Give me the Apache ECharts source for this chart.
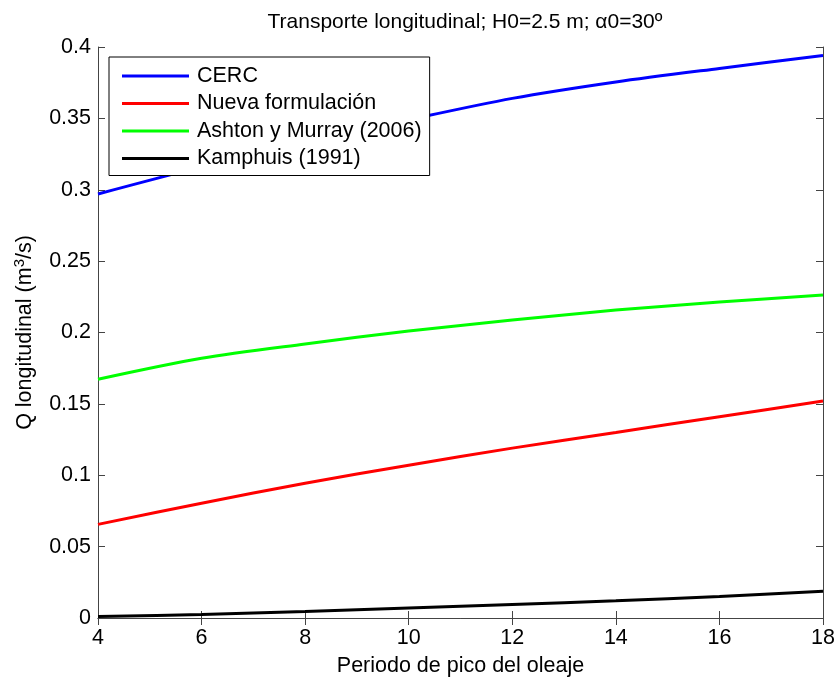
<!DOCTYPE html>
<html><head><meta charset="utf-8">
<script src="https://cdn.jsdelivr.net/npm/echarts@6/dist/echarts.min.js"></script>
<style>html,body{margin:0;padding:0;background:#fff}#c{width:838px;height:677px}</style>
</head><body><div id="c"></div>
<script>
const periods = [4, 6, 8, 10, 12, 14, 16, 18];
const cerc = [0.297, 0.316, 0.333, 0.349, 0.364, 0.3755, 0.385, 0.394];
const nueva = [0.0656, 0.0804, 0.0944, 0.107, 0.119, 0.130, 0.141, 0.152];
const ashton = [0.1673, 0.182, 0.192, 0.201, 0.2087, 0.2157, 0.2213, 0.2262];
const kamphuis = [0.001, 0.0025, 0.0045, 0.007, 0.0095, 0.012, 0.015, 0.0187];
const seriesNames = ['CERC', 'Nueva formulación', 'Ashton y Murray (2006)', 'Kamphuis (1991)'];
const seriesColors = ['#0000ff', '#ff0000', '#00ff00', '#000000'];
const xTicks = [4, 6, 8, 10, 12, 14, 16, 18];
const yTicks = [0, 0.05, 0.1, 0.15, 0.2, 0.25, 0.3, 0.35, 0.4];

const FONT = 'Liberation Sans';
const FS = 21.5;
const values = [cerc, nueva, ashton, kamphuis];
const chart = echarts.init(document.getElementById('c'));
const axisLine = {show: true, lineStyle: {color: '#444', width: 1}};
const tick = {show: true, inside: true, length: 7, lineStyle: {color: '#444'}};
chart.setOption({
  animation: false,
  backgroundColor: '#fff',
  title: {text: 'Transporte longitudinal; H0=2.5 m; α0=30º', left: 460, textAlign: 'center', top: 7,
    textStyle: {fontFamily: FONT, fontSize: 21, fontWeight: 'normal', color: '#000'}},
  grid: {left: 98, right: 15, top: 47, bottom: 59, containLabel: false, outerBoundsMode: 'none'},
  legend: {
    orient: 'vertical', left: 109, top: 57, padding: [8, 8, 6, 13],
    backgroundColor: '#fff', borderColor: '#000', borderWidth: 1,
    itemWidth: 67, itemHeight: 3, itemGap: 5.5, icon: 'rect',
    textStyle: {fontFamily: FONT, fontSize: FS, color: '#000', lineHeight: 22, padding: [0, 0, 0, 3]},
    data: seriesNames
  },
  xAxis: [
    {type: 'value', min: 4, max: 18, interval: 2, position: 'bottom',
     name: 'Periodo de pico del oleaje', nameLocation: 'middle', nameGap: 37,
     nameTextStyle: {fontFamily: FONT, fontSize: FS, color: '#000'},
     axisLine, axisTick: tick, splitLine: {show: false},
     axisLabel: {fontFamily: FONT, fontSize: FS, color: '#000', margin: 9}},
    {type: 'value', min: 4, max: 18, interval: 2, position: 'top',
     axisLine, axisTick: tick, splitLine: {show: false}, axisLabel: {show: false}}
  ],
  yAxis: [
    {type: 'value', min: 0, max: 0.4, interval: 0.05, position: 'left',
     name: 'Q longitudinal (m{sup|3}/s)', nameLocation: 'middle', nameGap: 60,
     nameTextStyle: {fontFamily: FONT, fontSize: FS, color: '#000', lineHeight: 26,
       rich: {sup: {fontFamily: FONT, fontSize: 15, color: '#000', verticalAlign: 'top', lineHeight: 26}}},
     axisLine, axisTick: tick, splitLine: {show: false},
     axisLabel: {fontFamily: FONT, fontSize: FS, color: '#000', margin: 7,
       formatter: v => yTicks.find(t => Math.abs(t - v) < 1e-9) !== undefined ? String(+v.toFixed(2)) : ''}},
    {type: 'value', min: 0, max: 0.4, interval: 0.05, position: 'right',
     axisLine, axisTick: tick, splitLine: {show: false}, axisLabel: {show: false}}
  ],
  series: seriesNames.map((name, i) => ({
    name, type: 'line', symbol: 'none', smooth: 0.3, color: seriesColors[i],
    lineStyle: {width: 3, color: seriesColors[i]},
    data: periods.map((p, j) => [p, values[i][j]])
  }))
});
</script></body></html>
